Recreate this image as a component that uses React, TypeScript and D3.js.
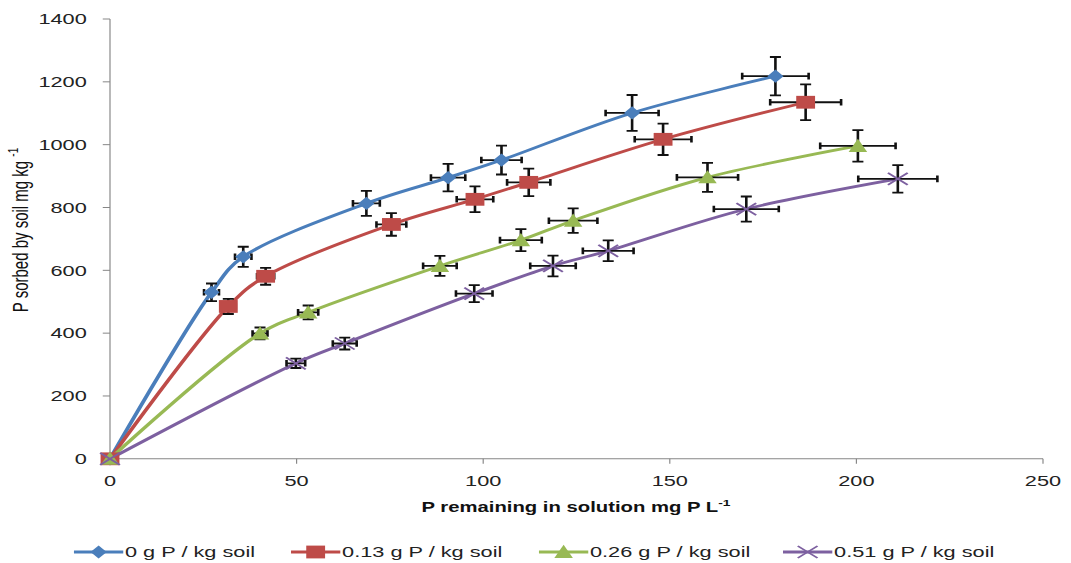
import React from 'react';
import * as d3 from 'd3';

// ---------- data ----------
const seriesNames = ['0 g P / kg soil', '0.13 g P / kg soil', '0.26 g P / kg soil', '0.51 g P / kg soil'];
const seriesColors = ['#4A7EBB', '#BE4B48', '#98B954', '#7D60A0'];
const seriesMarkers = ['diamond', 'square', 'triangle', 'x'];

const xBlue = [0, 27.2, 35.7, 68.7, 90.6, 104.9, 139.9, 178.3];
const yBlue = [0, 530, 643, 813, 895, 951, 1101, 1218];
const xErrBlue = [0, 2, 2.2, 3.6, 4.6, 5.4, 7.1, 8.9];
const yErrBlue = [0, 28, 32, 40, 44, 46, 57, 61];

const xRed = [0, 31.7, 41.7, 75.4, 97.8, 112.2, 148.2, 186.4];
const yRed = [0, 485, 581, 746, 826, 880, 1017, 1135];
const xErrRed = [0, 2, 2.3, 4.0, 4.9, 5.8, 7.6, 9.5];
const yErrRed = [0, 24, 27, 36, 41, 44, 50, 57];

const xGreen = [0, 40.2, 53.1, 88.4, 110.1, 124.1, 160.1, 200.4];
const yGreen = [0, 399, 466, 614, 696, 758, 896, 996];
const xErrGreen = [0, 2, 2.7, 4.5, 5.6, 6.5, 8.2, 10.1];
const yErrGreen = [0, 19, 22, 32, 35, 39, 46, 50];

const xPurple = [0, 49.8, 62.9, 97.6, 118.7, 133.5, 170.5, 211.1];
const yPurple = [0, 304, 367, 526, 614, 662, 795, 891];
const xErrPurple = [0, 2.5, 3.2, 4.9, 6.1, 6.8, 8.7, 10.6];
const yErrPurple = [0, 15, 19, 27, 33, 33, 40, 44];

const xTicks = [0, 50, 100, 150, 200, 250];
const yTicks = [0, 200, 400, 600, 800, 1000, 1200, 1400];

const xTitle = 'P remaining in solution mg P L';
const yTitle = 'P sorbed by soil mg kg ';
const unitSup = '-1';

// ---------- layout ----------
const W = 1071;
const H = 563;
const S = 1.45; // horizontal stretch of the original picture
const FONT = '"Liberation Sans", Arial, sans-serif';

const seriesX = [xBlue, xRed, xGreen, xPurple];
const seriesY = [yBlue, yRed, yGreen, yPurple];
const seriesXErr = [xErrBlue, xErrRed, xErrGreen, xErrPurple];
const seriesYErr = [yErrBlue, yErrRed, yErrGreen, yErrPurple];

const xScale = d3.scaleLinear().domain([0, 250]).range([110 / S, 1043 / S]);
const yScale = d3.scaleLinear().domain([0, 1400]).range([458.8, 19]);

function Marker({ type, color, cx, cy }: { type: string; color: string; cx: number; cy: number }) {
  const t = `translate(${cx},${cy})`;
  if (type === 'diamond') return <path transform={t} d="M0,-6.6L5.6,0L0,6.6L-5.6,0Z" fill={color} />;
  if (type === 'square') return <path transform={t} d="M-6.5,-6.4h13v12.8h-13Z" fill={color} />;
  if (type === 'triangle') return <path transform={t} d="M0,-7.2L6.4,6L-6.4,6Z" fill={color} />;
  return <path transform={t} d="M-6.8,-6L6.8,6M-6.8,6L6.8,-6" stroke={color} strokeWidth={1.6} fill="none" />;
}

export default function App() {
  const line = d3
    .line<number>()
    .curve(d3.curveCatmullRom.alpha(0.5));

  const legendLineX = [51, 200.7, 371.7, 540];
  const legendLen = 34;
  const legendY = 552;

  return (
    <svg width={W} height={H} style={{ position: 'absolute', left: 0, top: 0, background: '#fff' }}>
      <g transform={`scale(${S},1)`} fontFamily={FONT}>
        {/* axes */}
        <line x1={xScale(0)} x2={xScale(0)} y1={yScale(0)} y2={yScale(1400)} stroke="#868686" strokeWidth={0.8} />
        <line x1={xScale(0)} x2={xScale(250)} y1={yScale(0)} y2={yScale(0)} stroke="#868686" strokeWidth={1} />
        {yTicks.map((t) => (
          <g key={'y' + t}>
            <line x1={xScale(0) - 5} x2={xScale(0)} y1={yScale(t)} y2={yScale(t)} stroke="#868686" strokeWidth={1} />
            <text x={xScale(0) - 16} y={yScale(t) + 5.3} textAnchor="end" fontSize={15} fill="#222">
              {t}
            </text>
          </g>
        ))}
        {xTicks.map((t) => (
          <g key={'x' + t}>
            <line x1={xScale(t)} x2={xScale(t)} y1={yScale(0)} y2={yScale(0) + 5} stroke="#868686" strokeWidth={0.8} />
            <text x={xScale(t)} y={486} textAnchor="middle" fontSize={15} fill="#222">
              {t}
            </text>
          </g>
        ))}

        {/* titles */}
        <text x={576 / S} y={512} textAnchor="middle" fontSize={14} fontWeight="bold" fill="#111">
          {xTitle}
          <tspan fontSize={9.5} dy={-6}>{unitSup}</tspan>
        </text>
        <text transform={`translate(${19.3},${230}) rotate(-90)`} textAnchor="middle" fontSize={15} fill="#111">
          {yTitle}
          <tspan fontSize={10} dy={-7}>{unitSup}</tspan>
        </text>

        {/* series lines */}
        {seriesX.map((xs, si) => {
          const pts = xs.map((x, i) => [xScale(x), yScale(seriesY[si][i])] as [number, number]);
          const l = d3.line().curve(d3.curveCatmullRom.alpha(0.5))(pts) || '';
          return <path key={'l' + si} d={l} fill="none" stroke={seriesColors[si]} strokeWidth={2.8} />;
        })}

        {/* error bars */}
        {seriesX.map((xs, si) => (
          <g key={'e' + si} stroke="#111" strokeWidth={1.8} fill="none">
            {xs.map((x, i) => {
              const y = seriesY[si][i];
              const ex = seriesXErr[si][i];
              const ey = seriesYErr[si][i];
              if (ex === 0 && ey === 0) return null;
              const cx = xScale(x);
              const cy = yScale(y);
              const xl = xScale(x - ex);
              const xr = xScale(x + ex);
              const yt = yScale(y + ey);
              const yb = yScale(y - ey);
              const cw = 3.8;
              const ch = 3.3;
              return (
                <path
                  key={i}
                  d={`M${cx},${yt}V${yb}M${cx - cw},${yt}H${cx + cw}M${cx - cw},${yb}H${cx + cw}` +
                    `M${xl},${cy}H${xr}M${xl},${cy - ch}V${cy + ch}M${xr},${cy - ch}V${cy + ch}`}
                />
              );
            })}
          </g>
        ))}

        {/* markers */}
        {seriesX.map((xs, si) => (
          <g key={'m' + si}>
            {xs.map((x, i) => (
              <Marker key={i} type={seriesMarkers[si]} color={seriesColors[si]} cx={xScale(x)} cy={yScale(seriesY[si][i])} />
            ))}
          </g>
        ))}

        {/* legend */}
        {seriesNames.map((name, si) => (
          <g key={'lg' + si}>
            <line
              x1={legendLineX[si]}
              x2={legendLineX[si] + legendLen}
              y1={legendY}
              y2={legendY}
              stroke={seriesColors[si]}
              strokeWidth={2.8}
            />
            <Marker type={seriesMarkers[si]} color={seriesColors[si]} cx={legendLineX[si] + legendLen / 2} cy={legendY} />
            <text x={legendLineX[si] + legendLen + 1.2} y={legendY + 5.5} fontSize={15} fill="#222">
              {name}
            </text>
          </g>
        ))}
      </g>
    </svg>
  );
}
